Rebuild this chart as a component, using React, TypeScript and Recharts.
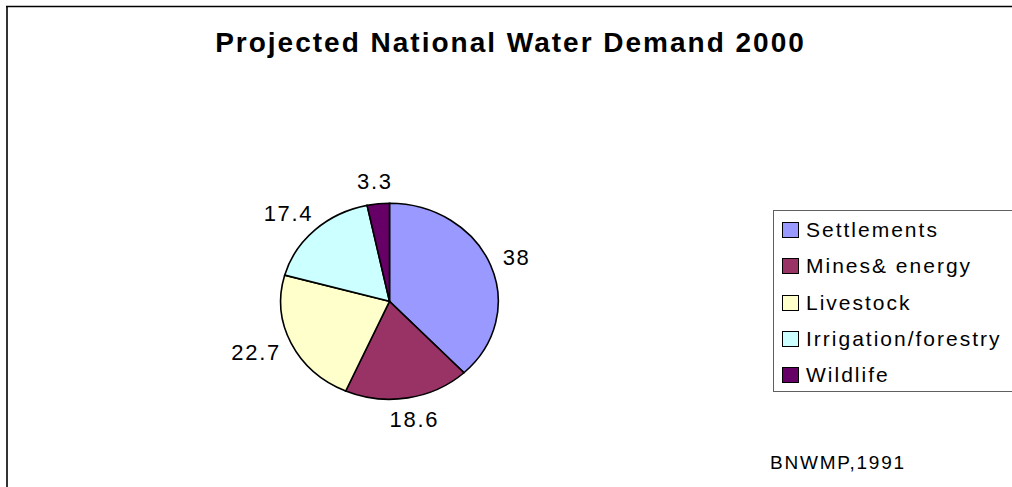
import { Legend, Pie, PieChart, Cell } from 'recharts'

const categories = ['Settlements', 'Mines& energy', 'Livestock', 'Irrigation/forestry', 'Wildlife']
const shares = [38, 18.6, 22.7, 17.4, 3.3]
const colors = ['#9999ff', '#993366', '#ffffcc', '#ccffff', '#660066']

const data = categories.map((name, i) => ({ name, value: shares[i] }))

const W = 1012
const H = 487
const CX = 389.5
const CY = 301.3
const R = 98
const STRETCH = 1.11
const FONT = '"Liberation Sans", Arial, sans-serif'

function textWidth(s: string, size: number, spacing: number) {
  let w = 0
  for (const ch of s) w += (ch === '.' ? 0.278 : 0.556) * size + spacing
  return w
}

function SliceLabel(props: any) {
  const { midAngle, value } = props
  const a = (midAngle * Math.PI) / 180
  const cos = Math.cos(a)
  const sin = Math.sin(a)
  const gap = 14
  const text = String(value)
  const half = textWidth(text, 22, 1.7) / 2
  const x = CX + (R * STRETCH + gap) * cos + half * cos
  const y = CY - (R + gap) * sin - 8 * sin
  return (
    <text
      x={x}
      y={y}
      textAnchor="middle"
      dominantBaseline="central"
      fontFamily={FONT}
      fontSize={22}
      letterSpacing={1.7}
      fill="#000"
    >
      {text}
    </text>
  )
}

function LegendBox({ payload }: { payload?: any[] }) {
  // keep the slice order, not the alphabetical one
  const items = [...(payload ?? [])].sort(
    (a, b) => categories.indexOf(a.value) - categories.indexOf(b.value),
  )
  return (
    <div
      style={{
        width: 250,
        height: 182,
        boxSizing: 'border-box',
        border: '1px solid #606060',
        background: '#fff',
        paddingTop: 1,
        fontFamily: FONT,
        fontSize: 21,
        letterSpacing: 2,
        color: '#000',
      }}
    >
      {items.map((entry) => (
        <div key={entry.value} style={{ height: 36.25, display: 'flex', alignItems: 'center' }}>
          <span
            style={{
              display: 'inline-block',
              width: 15,
              height: 14,
              marginLeft: 8,
              marginRight: 7,
              border: '1.5px solid #000',
              background: colors[categories.indexOf(entry.value)] ?? entry.color,
            }}
          />
          <span>{entry.value}</span>
        </div>
      ))}
    </div>
  )
}

export default function App() {
  return (
    <div style={{ position: 'absolute', left: 0, top: 0, width: W, height: H, overflow: 'hidden', background: '#fff' }}>
      <style>{`
        .recharts-sector {
          transform: scaleX(${STRETCH});
          transform-origin: ${CX}px ${CY}px;
          vector-effect: non-scaling-stroke;
        }
      `}</style>
      <PieChart width={W} height={H} margin={{ top: 0, right: 0, bottom: 0, left: 0 }}>
        <Pie
          data={data}
          dataKey="value"
          nameKey="name"
          cx={CX}
          cy={CY}
          outerRadius={R}
          startAngle={90}
          endAngle={-270}
          stroke="#000"
          strokeWidth={1.6}
          label={SliceLabel}
          labelLine={false}
          isAnimationActive={false}
        >
          {data.map((d, i) => (
            <Cell key={d.name} fill={colors[i]} />
          ))}
        </Pie>
        <Legend
          content={<LegendBox />}
          wrapperStyle={{ position: 'absolute', left: 773, top: 210, width: 250 }}
        />
      </PieChart>
      <svg width={W} height={H} style={{ position: 'absolute', left: 0, top: 0, pointerEvents: 'none' }}>
        <line x1={7} y1={6} x2={7} y2={H} stroke="#333" strokeWidth={2} />
        <line x1={6} y1={6.5} x2={W} y2={6.5} stroke="#000" strokeWidth={1.5} />
        <text
          x={510.5}
          y={52}
          textAnchor="middle"
          fontFamily={FONT}
          fontWeight="bold"
          fontSize={28}
          letterSpacing={2}
          fill="#000"
        >
          Projected National Water Demand 2000
        </text>
        <text x={770} y={469} fontFamily={FONT} fontSize={19} letterSpacing={1.8} fill="#000">
          BNWMP,1991
        </text>
      </svg>
    </div>
  )
}
